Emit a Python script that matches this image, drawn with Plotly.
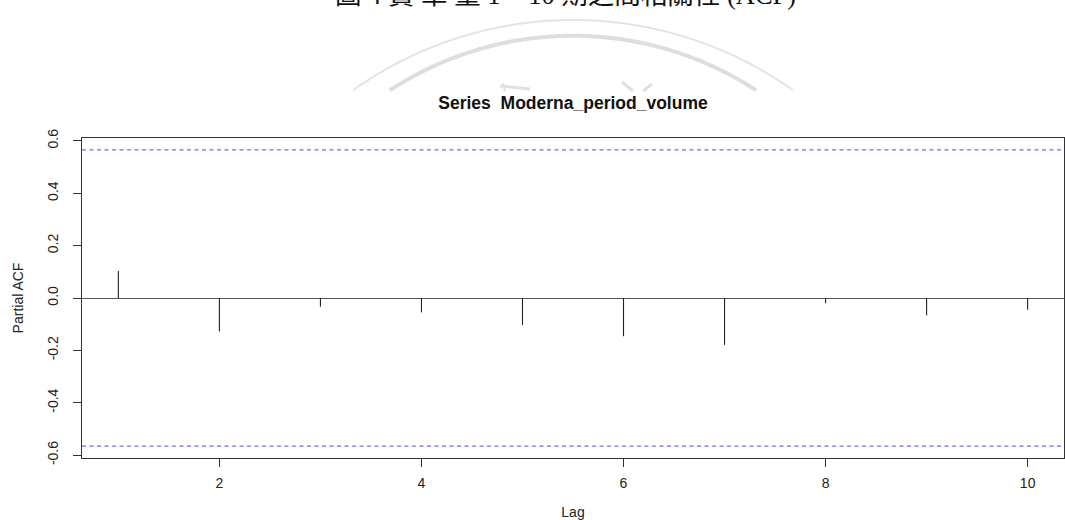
import numpy as np
import plotly.graph_objects as go

# ---- data ----
lags = [1, 2, 3, 4, 5, 6, 7, 8, 9, 10]
pacf_values = [0.103, -0.128, -0.033, -0.055, -0.103, -0.146, -0.179, -0.020, -0.066, -0.045]
n_obs = 12  # series length implied by the +/-0.566 bounds
x_tick_vals = [2, 4, 6, 8, 10]
y_tick_vals = [-0.6, -0.4, -0.2, 0.0, 0.2, 0.4, 0.6]
y_tick_text = ["-0.6", "-0.4", "-0.2", "0.0", "0.2", "0.4", "0.6"]
chart_title = "Series  Moderna_period_volume"
caption = "圖 4 賣 單 量 1 ~ 10 期之間相關性 (ACF)"

clim = 1.96 / np.sqrt(n_obs)

# ---- figure geometry (pixels) ----
W, H = 1065, 520
ML, MR, MT, MB = 82, 1, 138, 62
PW, PH = W - ML - MR, H - MT - MB


def px2paper(px, py):
    return (px - ML) / PW, (H - MB - py) / PH


# spikes built from the data
sx, sy = [], []
for lag, v in zip(lags, pacf_values):
    sx += [lag, lag, None]
    sy += [0, v, None]

fig = go.Figure()
fig.add_trace(go.Scatter(x=sx, y=sy, mode="lines",
                         line=dict(color="#222222", width=1.1),
                         hoverinfo="skip", showlegend=False))

shapes = []
# confidence bounds
for yv in (clim, -clim):
    shapes.append(dict(type="line", xref="paper", x0=0, x1=1, yref="y", y0=yv, y1=yv,
                       line=dict(color="rgb(110,110,255)", width=1.3, dash="4px,3.5px")))

# faint watermark arcs (decoration above the chart panel)
def arc_path(cx, cy, r, ycut):
    t = np.linspace(0, np.pi, 400)
    pts = [(cx + r * np.cos(a), cy - r * np.sin(a)) for a in t]
    pts = [p for p in pts if p[1] <= ycut]
    d = ""
    for i, (x, y) in enumerate(pts):
        xp, yp = px2paper(x, y)
        d += ("M" if i == 0 else "L") + f"{xp:.5f},{yp:.5f} "
    return d

for (cx, cy, r, w, c) in [(573, 399.5, 379.5, 2.0, "#e4e4e4"), (573, 370.8, 335.0, 4.0, "#dedede")]:
    shapes.append(dict(type="path", xref="paper", yref="paper", path=arc_path(cx, cy, r, 91),
                       line=dict(color=c, width=w), layer="below"))

for (x0, y0, x1, y1, w) in [(500, 86, 530, 89, 3), (503, 83, 505, 91, 2),
                            (622, 82, 633, 91, 3), (643, 91, 652, 84, 3)]:
    a0, b0 = px2paper(x0, y0)
    a1, b1 = px2paper(x1, y1)
    shapes.append(dict(type="line", xref="paper", yref="paper", x0=a0, y0=b0, x1=a1, y1=b1,
                       line=dict(color="#e0e0e0", width=w), layer="below"))

cx0, cy0 = px2paper(333, -5)

axis_font = dict(family="Liberation Sans, Arial, sans-serif", size=14, color="#222222")

fig.update_layout(
    width=W, height=H, autosize=False,
    margin=dict(l=ML, r=MR, t=MT, b=MB, pad=0, autoexpand=False),
    paper_bgcolor="white", plot_bgcolor="white",
    showlegend=False,
    title=dict(text=f"<b>{chart_title}</b>", x=0.5, xref="paper", xanchor="center",
               y=1 - 103 / H, yref="container", yanchor="middle",
               font=dict(family="Liberation Sans, Arial, sans-serif", size=17.5, color="#111111")),
    shapes=shapes,
    annotations=[dict(text=caption, xref="paper", yref="paper", x=cx0, y=cy0,
                      xanchor="left", yanchor="middle", showarrow=False,
                      font=dict(family="Liberation Serif, Noto Sans CJK TC, serif", size=26.5, color="#111111"))],
    xaxis=dict(range=[0.64, 10.36], tickmode="array", tickvals=x_tick_vals,
               ticks="outside", ticklen=8, tickwidth=1.2, tickcolor="#333333",
               showline=True, linecolor="#333333", linewidth=1.4, mirror=True,
               showgrid=False, zeroline=False, tickfont=axis_font, ticklabelstandoff=4,
               automargin=False,
               title=dict(text="Lag", font=axis_font, standoff=23)),
    yaxis=dict(range=[-0.611, 0.611], tickmode="array", tickvals=y_tick_vals, ticktext=y_tick_text,
               tickangle=-90, ticks="outside", ticklen=8, tickwidth=1.2, tickcolor="#333333",
               showline=True, linecolor="#333333", linewidth=1.4, mirror=True,
               showgrid=False, zeroline=True, zerolinecolor="#555555", zerolinewidth=1.3,
               tickfont=axis_font, ticklabelstandoff=9, automargin=False,
               title=dict(text="Partial ACF", font=axis_font, standoff=18)),
)

fig.write_html("out.html", config={"responsive": False, "displayModeBar": False},
               post_script="document.body.style.margin='0';document.body.style.overflow='hidden';")
